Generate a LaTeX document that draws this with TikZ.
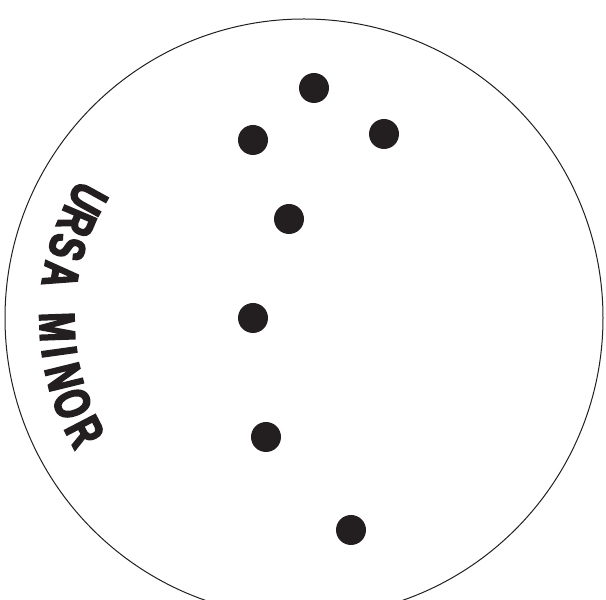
\documentclass[tikz,border=0pt]{standalone}
\usepackage{fontspec}
\newfontfamily\ursafont[FakeStretch=0.7,FakeBold=3.5]{Liberation Sans Bold}
\definecolor{ink}{HTML}{231F20}
\begin{document}
\begin{tikzpicture}[x=1pt,y=1pt,
  star/.style={circle,fill=ink,inner sep=0pt,minimum size=30pt},
  letter/.style={font=\ursafont\fontsize{50}{50}\selectfont,text=ink,inner sep=0pt,anchor=center},
  rim/.style={draw=ink,line width=1pt}]
\useasboundingbox (0,0) rectangle (606,600);
\clip (0,0) rectangle (606,600);
\coordinate (c) at (304,282);
\draw[rim] (c) circle[radius=299];
\node[star] (s1) at (314,512) {};
\node[star] (s2) at (253,460) {};
\node[star] (s3) at (384,466) {};
\node[star] (s4) at (289,381) {};
\node[star] (s5) at (253,282) {};
\node[star] (s6) at (266,163) {};
\node[star] (s7) at (351,70) {};
\foreach \ch/\ang [count=\i] in {U/151.1,R/157,S/163.4,A/170,M/182.1,I/187.9,N/193.8,O/200.3,R/207.4}
  \node[letter,rotate=\ang+90] (l\i) at ([shift={(\ang:247)}]c) {\ch};
\end{tikzpicture}
\end{document}
